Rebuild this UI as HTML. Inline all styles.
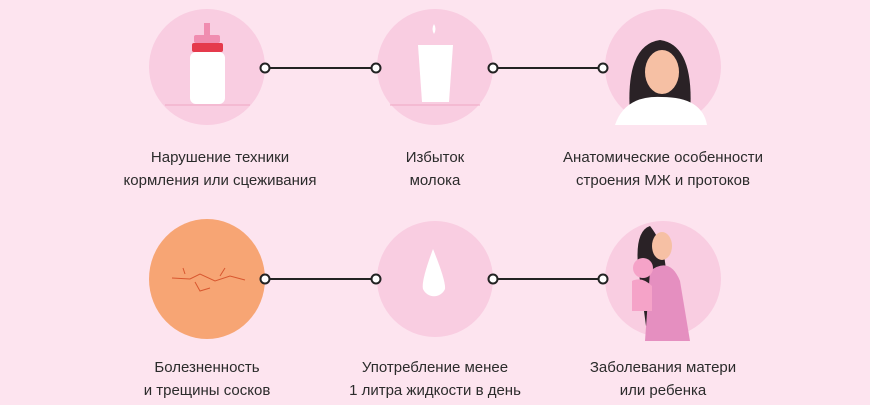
<!DOCTYPE html>
<html><head><meta charset="utf-8"><style>
body{margin:0;width:870px;height:400px;background:#fde4ef;overflow:hidden;font-family:"Liberation Sans",sans-serif}
</style></head><body>
<svg width="870" height="400" xmlns="http://www.w3.org/2000/svg">
<rect width="870" height="400" fill="#fde4ef"/>
<g fill="#f9cde1">
<circle cx="207" cy="67" r="58"/><circle cx="435" cy="67" r="58"/><circle cx="663" cy="67" r="58"/>
<circle cx="435" cy="279" r="58"/><circle cx="663" cy="279" r="58"/>
</g>
<ellipse cx="207" cy="279" rx="58" ry="60" fill="#f7a574"/>
<g stroke="#d8572f" stroke-width="1" fill="none">
<path d="M172 278 L190 279 L200 274 L215 281 L230 276 L245 280 M195 282 L200 291 L210 288 M220 276 L225 268 M185 274 L183 268"/>
</g>
<!-- bottle -->
<path d="M204 23 h6 v12 h-6z" fill="#f08db0"/>
<rect x="194" y="35" width="26" height="8" rx="2" fill="#f08db0"/>
<rect x="192" y="43" width="31" height="9" rx="2" fill="#e53a4c"/>
<rect x="190" y="52" width="35" height="52" rx="6" fill="#fff"/>
<line x1="165" y1="105" x2="250" y2="105" stroke="#f0a8c4"/>
<!-- glass -->
<path d="M418 45 h35 l-4 57 h-27z" fill="#fff"/>
<path d="M434 24 q3 5 0 10 q-3 -5 0 -10" fill="#fff"/>
<line x1="390" y1="105" x2="480" y2="105" stroke="#f0a8c4"/>
<!-- woman -->
<path d="M630 115 q-5 -70 30 -75 q35 5 30 75z" fill="#2a2226"/>
<ellipse cx="662" cy="72" rx="17" ry="22" fill="#f6c0a4"/>
<path d="M615 125 q10 -30 47 -28 q40 0 45 28z" fill="#fff"/>
<!-- drop -->
<path d="M433 249 q-12 32 -10 40 a12 12 0 0 0 22 0 q1 -8 -12 -40z" fill="#fff"/>
<!-- mother -->
<path d="M650 226 q-15 5 -12 40 l8 60 h30 l-10 -50 q0 -30 -16 -50z" fill="#2a2226"/>
<ellipse cx="662" cy="246" rx="10" ry="14" fill="#f6c0a4"/>
<path d="M650 271 q20 -15 30 10 l10 60 h-45z" fill="#e58fc0"/>
<circle cx="643" cy="268" r="10" fill="#f5a3c8"/>
<path d="M632 281 q10 -5 20 5 l0 25 h-20z" fill="#f5a3c8"/>
<g stroke="#222" stroke-width="2">
<line x1="265" y1="68" x2="376" y2="68"/><line x1="493" y1="68" x2="603" y2="68"/>
<line x1="265" y1="279" x2="376" y2="279"/><line x1="493" y1="279" x2="603" y2="279"/>
</g>
<g fill="#fff" stroke="#222" stroke-width="2">
<circle cx="265" cy="68" r="4.5"/><circle cx="376" cy="68" r="4.5"/><circle cx="493" cy="68" r="4.5"/><circle cx="603" cy="68" r="4.5"/>
<circle cx="265" cy="279" r="4.5"/><circle cx="376" cy="279" r="4.5"/><circle cx="493" cy="279" r="4.5"/><circle cx="603" cy="279" r="4.5"/>
</g>
<g font-family="Liberation Sans, sans-serif" font-size="15" fill="#2b2b2b" text-anchor="middle">
<text x="220" y="162">Нарушение техники</text><text x="220" y="185">кормления или сцеживания</text>
<text x="435" y="162">Избыток</text><text x="435" y="185">молока</text>
<text x="663" y="162">Анатомические особенности</text><text x="663" y="185">строения МЖ и протоков</text>
<text x="207" y="372">Болезненность</text><text x="207" y="395">и трещины сосков</text>
<text x="435" y="372">Употребление менее</text><text x="435" y="395">1 литра жидкости в день</text>
<text x="663" y="372">Заболевания матери</text><text x="663" y="395">или ребенка</text>
</g>
</svg>
</body></html>
